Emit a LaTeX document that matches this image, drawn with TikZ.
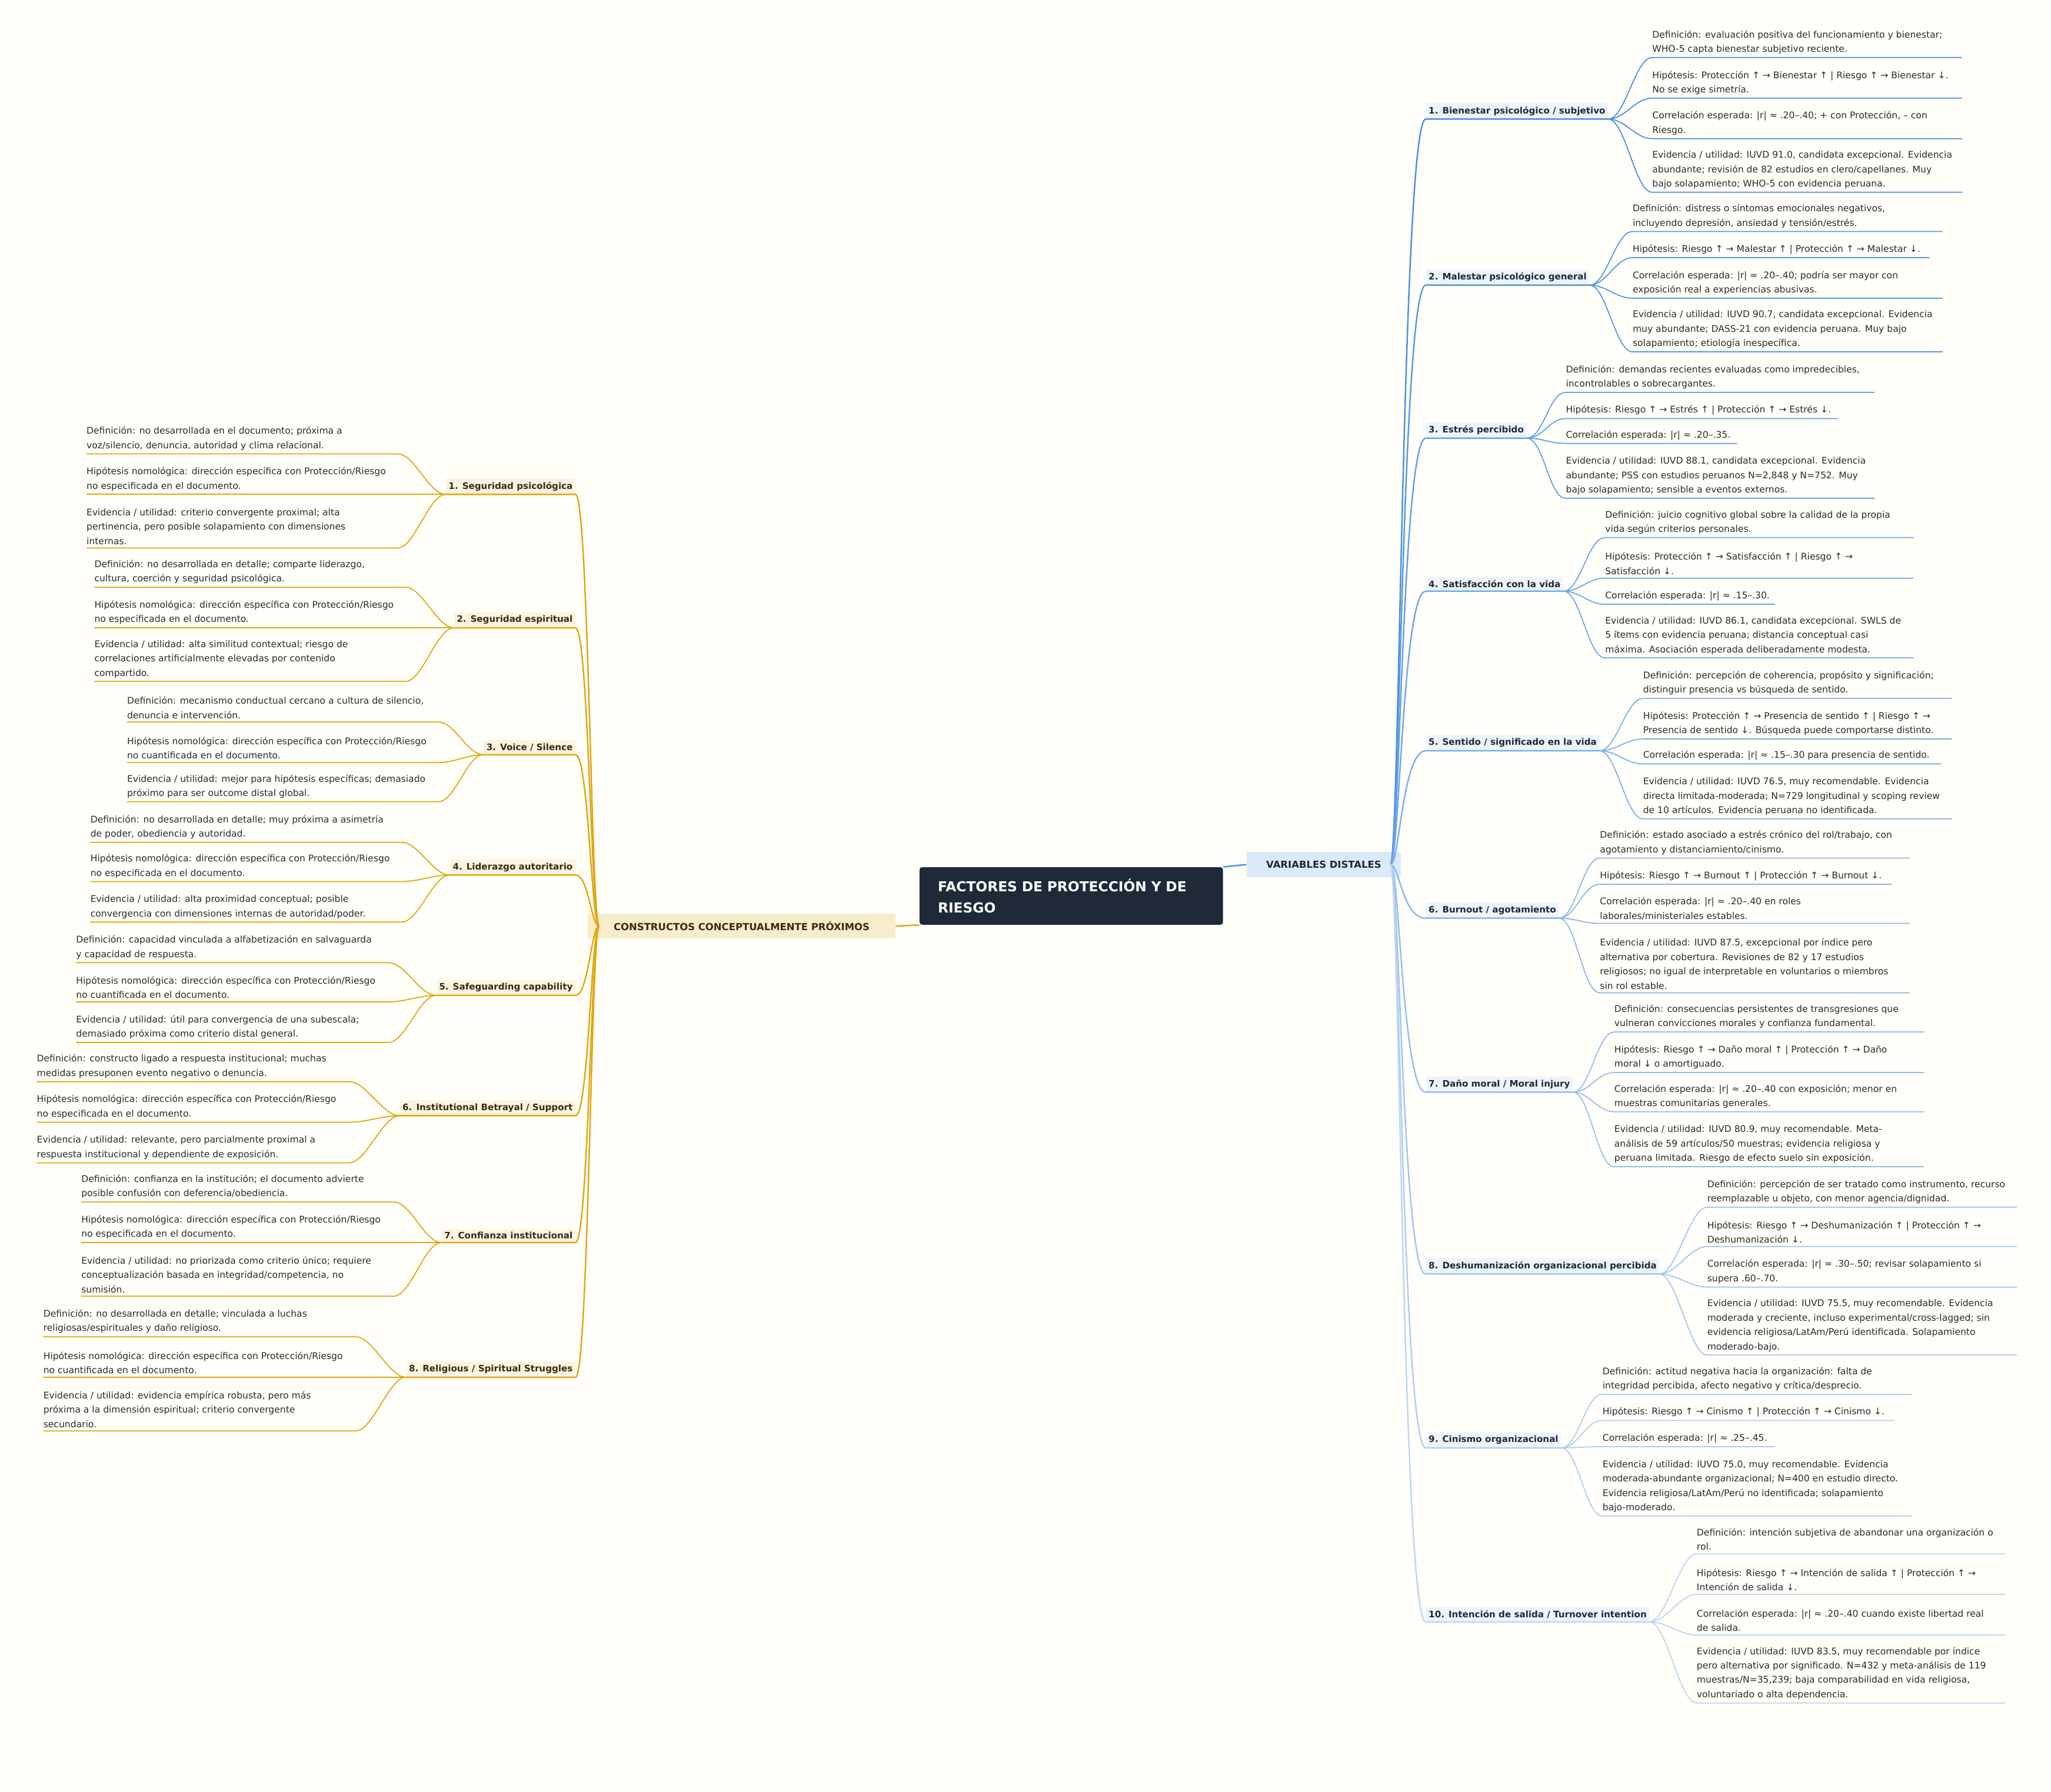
\documentclass[tikz,border=0pt]{standalone}
\usepackage{fontspec}
\setmainfont{DejaVu Sans}
\definecolor{paper}{HTML}{FFFEF8}
\definecolor{rb}{HTML}{4A90E2}
\definecolor{lo}{HTML}{E0A70E}
\definecolor{navy}{HTML}{1F2937}
\definecolor{ink}{HTML}{2B2B2B}
\definecolor{brown}{HTML}{3B2A10}
\colorlet{rc1}{rb!100}\colorlet{rc2}{rb!93}\colorlet{rc3}{rb!86}
\colorlet{rc4}{rb!79}\colorlet{rc5}{rb!72}\colorlet{rc6}{rb!65}
\colorlet{rc7}{rb!58}\colorlet{rc8}{rb!51}\colorlet{rc9}{rb!44}
\colorlet{rc10}{rb!37}
\tikzset{
  leaf/.style={inner xsep=0pt,inner ysep=2.5pt,align=left,text=ink,
    font=\fontsize{7}{11}\selectfont},
  rlabel/.style={fill=rb!10,inner xsep=2pt,inner ysep=2.5pt,text=navy,
    font=\fontsize{6.8}{9}\selectfont\bfseries},
  llabel/.style={fill=lo!12,inner xsep=2pt,inner ysep=2.5pt,text=brown,
    font=\fontsize{6.8}{9}\selectfont\bfseries},
  mainline/.style={line width=1.1pt},
  leafline/.style={line width=0.8pt}
}
% colour, name, underline y, text
\newcommand{\rbranch}[4]{%
  \node[rlabel,anchor=south west] (#2) at (1090,#3) {#4};
  \draw[#1,mainline] (vdout) .. controls (1070,661) and (1072,#3) .. (#2.south west) -- (#2.south east);}
\newcommand{\lbranch}[4]{%
  \node[llabel,anchor=south east] (#2) at (440,#3) {#4};
  \draw[#1,mainline] (cpout) .. controls (452,708) and (450,#3) .. (#2.south east) -- (#2.south west);}
% colour, parent, name, x, underline y, right end, text
\newcommand{\rleaf}[7]{%
  \node[leaf,anchor=south west] (#3) at (#4,#5) {#7};
  \draw[#1,leafline] (#2.south east) .. controls +(13,0) and +(-13,0) .. (#3.south west) -- (#6,#5);}
\newcommand{\lleaf}[7]{%
  \node[leaf,anchor=south west] (#3) at (#4,#5) {#7};
  \draw[#1,leafline] (#3.south west) -- (#6,#5) .. controls +(13,0) and +(-13,0) .. (#2.south west);}
\begin{document}
\begin{tikzpicture}[x=1pt,y=-1pt]
\useasboundingbox[fill=paper] (0,0) rectangle (1568,1370);

% Central topic and main branches
\node[fill=navy,rounded corners=2pt,minimum width=232,minimum height=44,
  text width=204,align=left,text=white,font=\fontsize{10.5}{16}\selectfont\bfseries]
  (ctr) at (819,685) {FACTORES DE PROTECCIÓN Y DE\\RIESGO};
\node[fill=rb!20,minimum width=118,minimum height=19,text=navy,
  font=\fontsize{7.4}{9}\selectfont\bfseries] (vd) at (1012,661) {VARIABLES DISTALES};
\node[fill=lo!22,minimum width=235,minimum height=19,text=brown,
  font=\fontsize{7.4}{9}\selectfont\bfseries] (cp) at (567,708) {CONSTRUCTOS CONCEPTUALMENTE PRÓXIMOS};
\draw[rb,mainline] (ctr.north east) -- (vd.west);
\draw[lo,mainline] (ctr.south west) -- (cp.east);
\coordinate (vdout) at (1063,661);
\coordinate (cpout) at (458,708);

% Variables distales
\rbranch{rc1}{r1}{91}{1. Bienestar psicológico / subjetivo}
\rleaf{rc1}{r1}{r1a}{1263}{44}{1500}{Definición: evaluación positiva del funcionamiento y bienestar;\\WHO-5 capta bienestar subjetivo reciente.}
\rleaf{rc1}{r1}{r1b}{1263}{75}{1500}{Hipótesis: Protección ↑ → Bienestar ↑ | Riesgo ↑ → Bienestar ↓.\\No se exige simetría.}
\rleaf{rc1}{r1}{r1c}{1263}{106}{1500}{Correlación esperada: |r| ≈ .20–.40; + con Protección, – con\\Riesgo.}
\rleaf{rc1}{r1}{r1d}{1263}{147}{1500}{Evidencia / utilidad: IUVD 91.0, candidata excepcional. Evidencia\\abundante; revisión de 82 estudios en clero/capellanes. Muy\\bajo solapamiento; WHO-5 con evidencia peruana.}

\rbranch{rc2}{r2}{218}{2. Malestar psicológico general}
\rleaf{rc2}{r2}{r2a}{1248}{177}{1485}{Definición: distress o síntomas emocionales negativos,\\incluyendo depresión, ansiedad y tensión/estrés.}
\rleaf{rc2}{r2}{r2b}{1248}{197}{1475}{Hipótesis: Riesgo ↑ → Malestar ↑ | Protección ↑ → Malestar ↓.}
\rleaf{rc2}{r2}{r2c}{1248}{228}{1485}{Correlación esperada: |r| ≈ .20–.40; podría ser mayor con\\exposición real a experiencias abusivas.}
\rleaf{rc2}{r2}{r2d}{1248}{269}{1485}{Evidencia / utilidad: IUVD 90.7, candidata excepcional. Evidencia\\muy abundante; DASS-21 con evidencia peruana. Muy bajo\\solapamiento; etiología inespecífica.}

\rbranch{rc3}{r3}{335}{3. Estrés percibido}
\rleaf{rc3}{r3}{r3a}{1197}{300}{1433}{Definición: demandas recientes evaluadas como impredecibles,\\incontrolables o sobrecargantes.}
\rleaf{rc3}{r3}{r3b}{1197}{320}{1405}{Hipótesis: Riesgo ↑ → Estrés ↑ | Protección ↑ → Estrés ↓.}
\rleaf{rc3}{r3}{r3c}{1197}{339}{1328}{Correlación esperada: |r| ≈ .20–.35.}
\rleaf{rc3}{r3}{r3d}{1197}{381}{1433}{Evidencia / utilidad: IUVD 88.1, candidata excepcional. Evidencia\\abundante; PSS con estudios peruanos N=2,848 y N=752. Muy\\bajo solapamiento; sensible a eventos externos.}

\rbranch{rc4}{r4}{452}{4. Satisfacción con la vida}
\rleaf{rc4}{r4}{r4a}{1227}{411}{1463}{Definición: juicio cognitivo global sobre la calidad de la propia\\vida según criterios personales.}
\rleaf{rc4}{r4}{r4b}{1227}{442}{1463}{Hipótesis: Protección ↑ → Satisfacción ↑ | Riesgo ↑ →\\Satisfacción ↓.}
\rleaf{rc4}{r4}{r4c}{1227}{462}{1357}{Correlación esperada: |r| ≈ .15–.30.}
\rleaf{rc4}{r4}{r4d}{1227}{503}{1463}{Evidencia / utilidad: IUVD 86.1, candidata excepcional. SWLS de\\5 ítems con evidencia peruana; distancia conceptual casi\\máxima. Asociación esperada deliberadamente modesta.}

\rbranch{rc5}{r5}{574}{5. Sentido / significado en la vida}
\rleaf{rc5}{r5}{r5a}{1256}{534}{1492}{Definición: percepción de coherencia, propósito y significación;\\distinguir presencia vs búsqueda de sentido.}
\rleaf{rc5}{r5}{r5b}{1256}{565}{1492}{Hipótesis: Protección ↑ → Presencia de sentido ↑ | Riesgo ↑ →\\Presencia de sentido ↓. Búsqueda puede comportarse distinto.}
\rleaf{rc5}{r5}{r5c}{1256}{584}{1484}{Correlación esperada: |r| ≈ .15–.30 para presencia de sentido.}
\rleaf{rc5}{r5}{r5d}{1256}{626}{1492}{Evidencia / utilidad: IUVD 76.5, muy recomendable. Evidencia\\directa limitada-moderada; N=729 longitudinal y scoping review\\de 10 artículos. Evidencia peruana no identificada.}

\rbranch{rc6}{r6}{702}{6. Burnout / agotamiento}
\rleaf{rc6}{r6}{r6a}{1223}{656}{1460}{Definición: estado asociado a estrés crónico del rol/trabajo, con\\agotamiento y distanciamiento/cinismo.}
\rleaf{rc6}{r6}{r6b}{1223}{676}{1446}{Hipótesis: Riesgo ↑ → Burnout ↑ | Protección ↑ → Burnout ↓.}
\rleaf{rc6}{r6}{r6c}{1223}{706}{1460}{Correlación esperada: |r| ≈ .20–.40 en roles\\laborales/ministeriales estables.}
\rleaf{rc6}{r6}{r6d}{1223}{759}{1460}{Evidencia / utilidad: IUVD 87.5, excepcional por índice pero\\alternativa por cobertura. Revisiones de 82 y 17 estudios\\religiosos; no igual de interpretable en voluntarios o miembros\\sin rol estable.}

\rbranch{rc7}{r7}{835}{7. Daño moral / Moral injury}
\rleaf{rc7}{r7}{r7a}{1234}{789}{1471}{Definición: consecuencias persistentes de transgresiones que\\vulneran convicciones morales y confianza fundamental.}
\rleaf{rc7}{r7}{r7b}{1234}{820}{1471}{Hipótesis: Riesgo ↑ → Daño moral ↑ | Protección ↑ → Daño\\moral ↓ o amortiguado.}
\rleaf{rc7}{r7}{r7c}{1234}{850}{1471}{Correlación esperada: |r| ≈ .20–.40 con exposición; menor en\\muestras comunitarias generales.}
\rleaf{rc7}{r7}{r7d}{1234}{892}{1471}{Evidencia / utilidad: IUVD 80.9, muy recomendable. Meta-\\análisis de 59 artículos/50 muestras; evidencia religiosa y\\peruana limitada. Riesgo de efecto suelo sin exposición.}

\rbranch{rc8}{r8}{974}{8. Deshumanización organizacional percibida}
\rleaf{rc8}{r8}{r8a}{1305}{923}{1542}{Definición: percepción de ser tratado como instrumento, recurso\\reemplazable u objeto, con menor agencia/dignidad.}
\rleaf{rc8}{r8}{r8b}{1305}{953}{1542}{Hipótesis: Riesgo ↑ → Deshumanización ↑ | Protección ↑ →\\Deshumanización ↓.}
\rleaf{rc8}{r8}{r8c}{1305}{984}{1542}{Correlación esperada: |r| ≈ .30–.50; revisar solapamiento si\\supera .60–.70.}
\rleaf{rc8}{r8}{r8d}{1305}{1036}{1542}{Evidencia / utilidad: IUVD 75.5, muy recomendable. Evidencia\\moderada y creciente, incluso experimental/cross-lagged; sin\\evidencia religiosa/LatAm/Perú identificada. Solapamiento\\moderado-bajo.}

\rbranch{rc9}{r9}{1107}{9. Cinismo organizacional}
\rleaf{rc9}{r9}{r9a}{1225}{1066}{1462}{Definición: actitud negativa hacia la organización: falta de\\integridad percibida, afecto negativo y crítica/desprecio.}
\rleaf{rc9}{r9}{r9b}{1225}{1086}{1448}{Hipótesis: Riesgo ↑ → Cinismo ↑ | Protección ↑ → Cinismo ↓.}
\rleaf{rc9}{r9}{r9c}{1225}{1106}{1357}{Correlación esperada: |r| ≈ .25–.45.}
\rleaf{rc9}{r9}{r9d}{1225}{1159}{1462}{Evidencia / utilidad: IUVD 75.0, muy recomendable. Evidencia\\moderada-abundante organizacional; N=400 en estudio directo.\\Evidencia religiosa/LatAm/Perú no identificada; solapamiento\\bajo-moderado.}

\rbranch{rc10}{r10}{1240}{10. Intención de salida / Turnover intention}
\rleaf{rc10}{r10}{r10a}{1297}{1188}{1533}{Definición: intención subjetiva de abandonar una organización o\\rol.}
\rleaf{rc10}{r10}{r10b}{1297}{1219}{1533}{Hipótesis: Riesgo ↑ → Intención de salida ↑ | Protección ↑ →\\Intención de salida ↓.}
\rleaf{rc10}{r10}{r10c}{1297}{1250}{1533}{Correlación esperada: |r| ≈ .20–.40 cuando existe libertad real\\de salida.}
\rleaf{rc10}{r10}{r10d}{1297}{1302}{1533}{Evidencia / utilidad: IUVD 83.5, muy recomendable por índice\\pero alternativa por significado. N=432 y meta-análisis de 119\\muestras/N=35,239; baja comparabilidad en vida religiosa,\\voluntariado o alta dependencia.}

% Constructos conceptualmente proximos
\lbranch{lo}{l1}{378}{1. Seguridad psicológica}
\lleaf{lo}{l1}{l1a}{66}{347}{304}{Definición: no desarrollada en el documento; próxima a\\voz/silencio, denuncia, autoridad y clima relacional.}
\lleaf{lo}{l1}{l1b}{66}{378}{304}{Hipótesis nomológica: dirección específica con Protección/Riesgo\\no especificada en el documento.}
\lleaf{lo}{l1}{l1c}{66}{419}{304}{Evidencia / utilidad: criterio convergente proximal; alta\\pertinencia, pero posible solapamiento con dimensiones\\internas.}

\lbranch{lo}{l2}{480}{2. Seguridad espiritual}
\lleaf{lo}{l2}{l2a}{72}{449}{310}{Definición: no desarrollada en detalle; comparte liderazgo,\\cultura, coerción y seguridad psicológica.}
\lleaf{lo}{l2}{l2b}{72}{480}{310}{Hipótesis nomológica: dirección específica con Protección/Riesgo\\no especificada en el documento.}
\lleaf{lo}{l2}{l2c}{72}{521}{310}{Evidencia / utilidad: alta similitud contextual; riesgo de\\correlaciones artificialmente elevadas por contenido\\compartido.}

\lbranch{lo}{l3}{577}{3. Voice / Silence}
\lleaf{lo}{l3}{l3a}{97}{552}{335}{Definición: mecanismo conductual cercano a cultura de silencio,\\denuncia e intervención.}
\lleaf{lo}{l3}{l3b}{97}{583}{335}{Hipótesis nomológica: dirección específica con Protección/Riesgo\\no cuantificada en el documento.}
\lleaf{lo}{l3}{l3c}{97}{613}{335}{Evidencia / utilidad: mejor para hipótesis específicas; demasiado\\próximo para ser outcome distal global.}

\lbranch{lo}{l4}{669}{4. Liderazgo autoritario}
\lleaf{lo}{l4}{l4a}{69}{644}{307}{Definición: no desarrollada en detalle; muy próxima a asimetría\\de poder, obediencia y autoridad.}
\lleaf{lo}{l4}{l4b}{69}{674}{307}{Hipótesis nomológica: dirección específica con Protección/Riesgo\\no especificada en el documento.}
\lleaf{lo}{l4}{l4c}{69}{705}{307}{Evidencia / utilidad: alta proximidad conceptual; posible\\convergencia con dimensiones internas de autoridad/poder.}

\lbranch{lo}{l5}{761}{5. Safeguarding capability}
\lleaf{lo}{l5}{l5a}{58}{736}{297}{Definición: capacidad vinculada a alfabetización en salvaguarda\\y capacidad de respuesta.}
\lleaf{lo}{l5}{l5b}{58}{766}{297}{Hipótesis nomológica: dirección específica con Protección/Riesgo\\no cuantificada en el documento.}
\lleaf{lo}{l5}{l5c}{58}{797}{297}{Evidencia / utilidad: útil para convergencia de una subescala;\\demasiado próxima como criterio distal general.}

\lbranch{lo}{l6}{853}{6. Institutional Betrayal / Support}
\lleaf{lo}{l6}{l6a}{28}{827}{267}{Definición: constructo ligado a respuesta institucional; muchas\\medidas presuponen evento negativo o denuncia.}
\lleaf{lo}{l6}{l6b}{28}{858}{267}{Hipótesis nomológica: dirección específica con Protección/Riesgo\\no especificada en el documento.}
\lleaf{lo}{l6}{l6c}{28}{889}{267}{Evidencia / utilidad: relevante, pero parcialmente proximal a\\respuesta institucional y dependiente de exposición.}

\lbranch{lo}{l7}{950}{7. Confianza institucional}
\lleaf{lo}{l7}{l7a}{62}{919}{301}{Definición: confianza en la institución; el documento advierte\\posible confusión con deferencia/obediencia.}
\lleaf{lo}{l7}{l7b}{62}{950}{301}{Hipótesis nomológica: dirección específica con Protección/Riesgo\\no especificada en el documento.}
\lleaf{lo}{l7}{l7c}{62}{991}{301}{Evidencia / utilidad: no priorizada como criterio único; requiere\\conceptualización basada en integridad/competencia, no\\sumisión.}

\lbranch{lo}{l8}{1053}{8. Religious / Spiritual Struggles}
\lleaf{lo}{l8}{l8a}{33}{1022}{272}{Definición: no desarrollada en detalle; vinculada a luchas\\religiosas/espirituales y daño religioso.}
\lleaf{lo}{l8}{l8b}{33}{1053}{272}{Hipótesis nomológica: dirección específica con Protección/Riesgo\\no cuantificada en el documento.}
\lleaf{lo}{l8}{l8c}{33}{1094}{272}{Evidencia / utilidad: evidencia empírica robusta, pero más\\próxima a la dimensión espiritual; criterio convergente\\secundario.}
\end{tikzpicture}
\end{document}
